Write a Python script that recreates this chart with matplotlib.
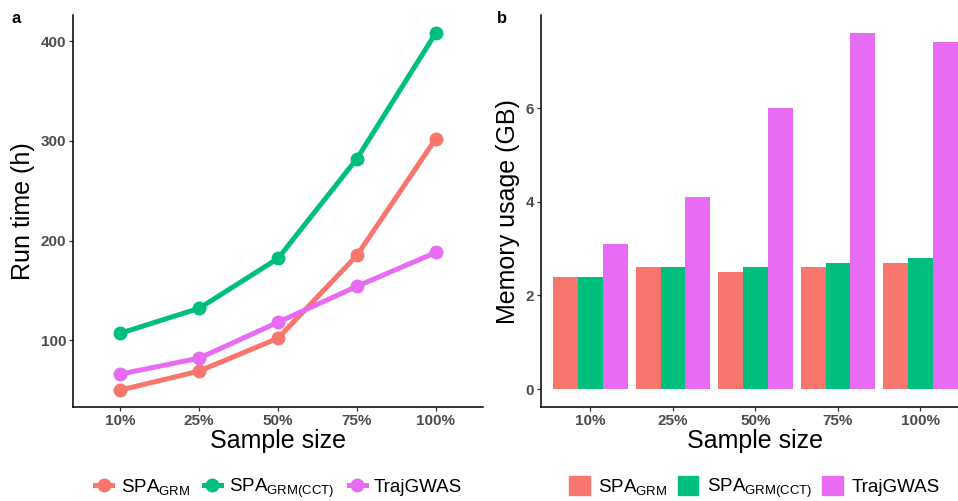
import matplotlib
matplotlib.use("Agg")
import matplotlib.pyplot as plt
import matplotlib.patches as pt
from matplotlib.lines import Line2D
import numpy as np

plt.rcParams["font.family"] = "Liberation Sans"
plt.rcParams["mathtext.fontset"] = "custom"
plt.rcParams["mathtext.rm"] = "Liberation Sans"
plt.rcParams["mathtext.it"] = "Liberation Sans"

sizes = ["10%", "25%", "50%", "75%", "100%"]
methods = [r"SPA$_{\mathrm{GRM}}$", r"SPA$_{\mathrm{GRM(CCT)}}$", "TrajGWAS"]
colors = ["#F8766D", "#00BF7D", "#E76BF3"]

# run time (h)
time_grm = [50, 69, 102, 185, 302]
time_cct = [107, 132, 182, 282, 408]
time_traj = [66, 82, 118, 154, 188]

# memory (GB)
mem_grm = [2.4, 2.6, 2.5, 2.6, 2.7]
mem_cct = [2.4, 2.6, 2.6, 2.7, 2.8]
mem_traj = [3.1, 4.1, 6.0, 7.6, 7.4]

TICKCOL = "#4D4D4D"

fig = plt.figure(figsize=(9.58, 5.01), dpi=100)
ax1 = fig.add_axes([0.0762, 0.1876, 0.428, 0.782])
ax2 = fig.add_axes([0.5647, 0.1876, 0.4478, 0.782])

x = np.arange(1, len(sizes) + 1)

# panel a
for y, c in zip([time_grm, time_cct, time_traj], colors):
    ax1.plot(x, y, color=c, lw=3.6, marker="o", ms=9, solid_capstyle="butt")
ax1.set_xlim(0.4, 5.6)
ax1.set_ylim(33, 426)
ax1.set_yticks([100, 200, 300, 400])
ax1.set_ylabel("Run time (h)", fontsize=18)

# panel b
w = 0.3
for i, (y, c) in enumerate(zip([mem_grm, mem_cct, mem_traj], colors)):
    ax2.bar(x + (i - 1) * w, y, width=w, color=c, linewidth=0)
ax2.set_xlim(0.4, 5.6)
ax2.set_ylim(-0.38, 7.98)
ax2.set_yticks([0, 2, 4, 6])
ax2.set_ylabel("Memory usage (GB)", fontsize=18)

for ax in (ax1, ax2):
    ax.set_xticks(x)
    ax.set_xticklabels(sizes)
    ax.set_xlabel("Sample size", fontsize=18, labelpad=1)
    for s in ["top", "right"]:
        ax.spines[s].set_visible(False)
    for s in ["left", "bottom"]:
        ax.spines[s].set_linewidth(1.1)
    ax.tick_params(length=3, width=0.9, color="#333333", labelsize=11,
                   labelcolor=TICKCOL, pad=2)
    for lab in ax.get_xticklabels() + ax.get_yticklabels():
        lab.set_fontweight("bold")

fig.text(0.012, 0.955, "a", fontsize=12, fontweight="bold")
fig.text(0.519, 0.955, "b", fontsize=12, fontweight="bold")

# legends
line_handles = [Line2D([], [], color=c, lw=3.6, marker="o", ms=9) for c in colors]
fig.legend(line_handles, methods, loc="center", bbox_to_anchor=(0.291, 0.026),
           ncol=3, frameon=False, fontsize=13.5, handlelength=0.9,
           handletextpad=0.45, columnspacing=0.75)

bar_handles = [pt.Patch(color=c) for c in colors]
fig.legend(bar_handles, methods, loc="center", bbox_to_anchor=(0.7876, 0.026),
           ncol=3, frameon=False, fontsize=13.5, handlelength=1.1, handleheight=1.2,
           handletextpad=0.45, columnspacing=0.55)

fig.savefig("out.png", dpi=100)
